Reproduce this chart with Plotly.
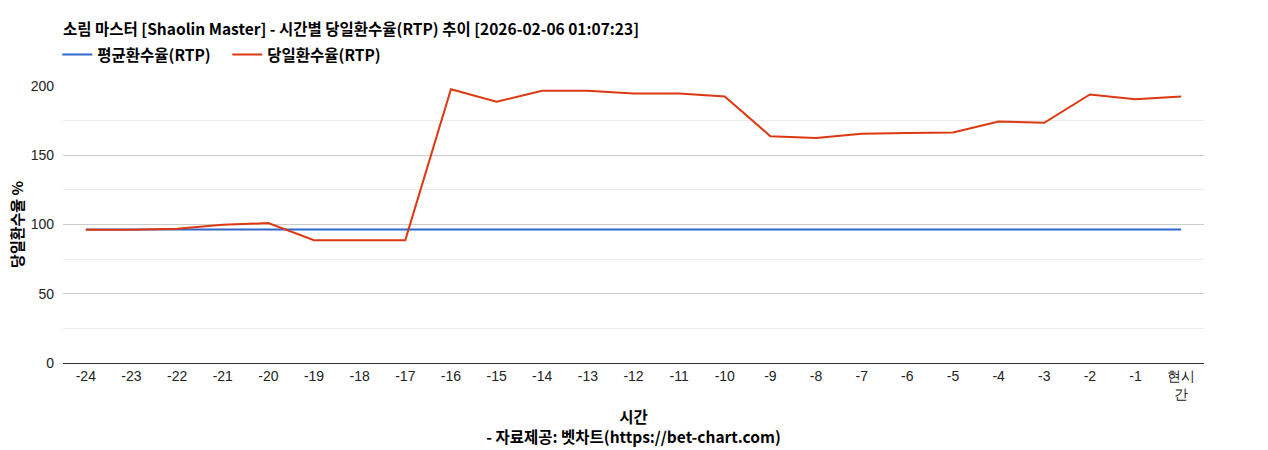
"""Hourly RTP trend chart for a single slot title."""

import plotly.graph_objects as go

HOURS = [str(h) for h in range(-24, 0)] + ["현시간"]
HOUR_LABELS = [str(h) for h in range(-24, 0)] + ["현시<br>간"]

AVG_RTP = [96.3] * 25
DAILY_RTP = [
    96.2, 96.2, 96.9, 99.8, 101.0, 88.7, 88.7, 88.7, 197.7, 188.6,
    196.5, 196.5, 194.6, 194.6, 192.4, 163.7, 162.5, 165.6, 166.1, 166.4,
    174.3, 173.4, 193.9, 190.5, 192.4,
]

TITLE = "소림 마스터 [Shaolin Master] - 시간별 당일환수율(RTP) 추이 [2026-02-06 01:07:23]"
KR_FONT = "Noto Sans CJK KR"
TICK_FONT = "Liberation Sans, Arial"

fig = go.Figure()

fig.add_trace(go.Scatter(
    x=HOURS, y=AVG_RTP, mode="lines", name="평균환수율(RTP)",
    line=dict(color="#3366cc", width=2),
))
fig.add_trace(go.Scatter(
    x=HOURS, y=DAILY_RTP, mode="lines", name="당일환수율(RTP)",
    line=dict(color="#dc3912", width=2),
))

fig.update_layout(
    width=1268,
    height=450,
    paper_bgcolor="white",
    plot_bgcolor="white",
    margin=dict(l=63, r=64, t=86, b=87, autoexpand=False),
    title=dict(
        text=f"<b>{TITLE}</b>",
        x=63 / 1268, xanchor="left", y=1 - 30 / 450, yanchor="middle",
        font=dict(family=KR_FONT, size=15.5, color="#000"),
        automargin=False,
    ),
    legend=dict(
        orientation="h", x=-0.005, xanchor="left", y=1 + 31 / 277, yanchor="middle",
        font=dict(family=KR_FONT, size=15.5, color="#000", weight="bold"),
        itemwidth=30, entrywidth=125, tracegroupgap=0,
    ),
    xaxis=dict(
        type="category",
        tickmode="array", tickvals=HOURS, ticktext=HOUR_LABELS,
        range=[-0.5, 24.5],
        showgrid=False, ticks="", showline=False, zeroline=False,
        automargin=False, ticklabelstandoff=3,
        tickfont=dict(family=TICK_FONT, size=14, color="#222"),
        title=dict(
            text="<b>시간</b><br><b>- 자료제공: 벳차트(https://bet-chart.com)</b>",
            font=dict(family=KR_FONT, size=15.5, color="#000"),
            standoff=10,
        ),
    ),
    yaxis=dict(
        range=[0, 200],
        tickvals=[0, 50, 100, 150, 200],
        gridcolor="#cccccc", gridwidth=1,
        minor=dict(tickvals=[25, 75, 125, 175], showgrid=True,
                   gridcolor="#ebebeb", gridwidth=1),
        zeroline=True, zerolinecolor="#333333", zerolinewidth=1,
        ticks="", ticklabelstandoff=8,
        automargin=False,
        tickfont=dict(family=TICK_FONT, size=14, color="#222"),
        title=dict(
            text="<b>당일환수율 %</b>",
            font=dict(family=KR_FONT, size=15, color="#000"),
            standoff=3,
        ),
    ),
)

fig.write_html(
    "out.html",
    config={"displayModeBar": False},
    post_script="document.body.style.margin='0';",
)
